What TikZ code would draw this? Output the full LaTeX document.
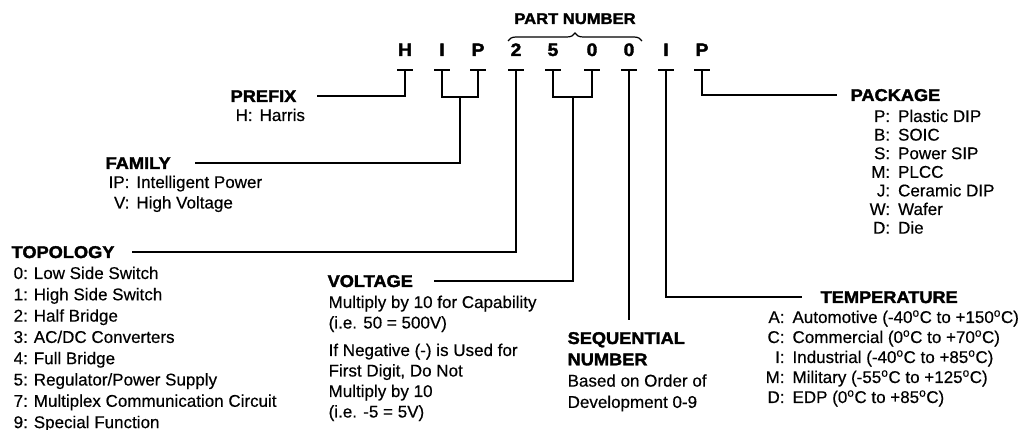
\documentclass[tikz,border=0pt]{standalone}
\usepackage{fontspec}
\setmainfont{Liberation Sans}[FakeBold=0.4]
\newfontfamily\hdfont{Liberation Sans Bold}[FakeBold=2,FakeStretch=1.07]
\usetikzlibrary{decorations.pathreplacing}
\begin{document}
\begin{tikzpicture}[x=1pt,y=-1pt,line width=1.3pt,
  txt/.style={inner sep=0pt,anchor=base west,font=\fontsize{17}{19}\selectfont},
  hd/.style={inner sep=0pt,anchor=base west,font=\hdfont\fontsize{17}{19}\selectfont},
  digit/.style={inner sep=0pt,anchor=base,font=\hdfont\fontsize{18}{19}\selectfont},
  teebar/.style={line width=1.3pt},
  conn/.style={line width=1.3pt}]
\useasboundingbox (0,0) rectangle (1023,430);

% part number heading and brace
\node[digit,font=\hdfont\fontsize{15.5}{18}\selectfont] (pn) at (575,24) {PART NUMBER};
\coordinate (brL) at (508,41);
\coordinate (brR) at (642,41);
\draw[line width=1.2pt,decorate,decoration={brace,amplitude=8pt}] (brL) -- (brR);

% digits
\foreach \n/\x/\c in {dH/405/H,dI/442/I,dP/478/P,dTwo/516/2,dFive/553/5,dZa/592/0,dZb/629/0,dIb/666/I,dPb/702/P}{
  \node[digit] (\n) at (\x,56) {\c};
  \coordinate (t\n) at (\x,70);
  \draw[teebar] ([xshift=-8pt]t\n) -- ([xshift=8pt]t\n);
}

% PREFIX
\node[hd] (prefix) at (230,102) {PREFIX};
\node[txt] (prefixtxt) at (235,121) {H:\hspace{7pt}Harris};
\coordinate (prefixend) at (317,96);
\draw[conn] (tdH) |- (prefixend);

% FAMILY
\node[hd] (family) at (105,169) {FAMILY};
\node[txt,font=\fontsize{17}{20.5}\selectfont] (familytxt) at (108,188)
  {\begin{tabular}[t]{@{}r@{:\hspace{7pt}}l@{}}IP&Intelligent Power\\V&High Voltage\end{tabular}};
\coordinate (jIP) at (460,97);
\coordinate (famend) at (195,163);
\draw[conn] (tdI) |- (jIP) -| (tdP);
\draw[conn] (jIP) |- (famend);

% TOPOLOGY
\node[hd] (topo) at (11,258) {TOPOLOGY};
\node[txt,font=\fontsize{17}{21.3}\selectfont] (topotxt) at (13,279)
  {\begin{tabular}[t]{@{}r@{:\hspace{6pt}}l@{}}
   0&Low Side Switch\\1&High Side Switch\\2&Half Bridge\\3&AC/DC Converters\\
   4&Full Bridge\\5&Regulator/Power Supply\\7&Multiplex Communication Circuit\\9&Special Function
   \end{tabular}};
\coordinate (topoend) at (132,252);
\draw[conn] (tdTwo) |- (topoend);

% VOLTAGE
\node[hd] (volt) at (327,287) {VOLTAGE};
\node[txt,font=\fontsize{17}{20.5}\selectfont] (volttxt) at (328,308)
  {\begin{tabular}[t]{@{}l@{}}
   Multiply by 10 for Capability\\(i.e. 50 = 500V)\\[7pt]
   If Negative (-) is Used for\\First Digit, Do Not\\Multiply by 10\\(i.e. -5 = 5V)
   \end{tabular}};
\coordinate (jFZ) at (573,97);
\coordinate (voltend) at (434,281);
\draw[conn] (tdFive) |- (jFZ) -| (tdZa);
\draw[conn] (jFZ) |- (voltend);

% SEQUENTIAL NUMBER
\coordinate (seqend) at (629,320);
\draw[conn] (tdZb) -- (seqend);
\node[txt,font=\fontsize{17}{21.3}\selectfont] (seq) at (567,344)
  {\begin{tabular}[t]{@{}l@{}}
   {\hdfont SEQUENTIAL}\\{\hdfont NUMBER}\\Based on Order of\\Development 0-9
   \end{tabular}};

% TEMPERATURE
\node[hd] (temp) at (820,303) {TEMPERATURE};
\node[txt,font=\fontsize{17}{20}\selectfont] (temptxt) at (765,323)
  {\begin{tabular}[t]{@{}r@{:\hspace{8pt}}l@{}}
   A&Automotive (-40\textsuperscript{o}C to +150\textsuperscript{o}C)\\
   C&Commercial (0\textsuperscript{o}C to +70\textsuperscript{o}C)\\
   I&Industrial (-40\textsuperscript{o}C to +85\textsuperscript{o}C)\\
   M&Military (-55\textsuperscript{o}C to +125\textsuperscript{o}C)\\
   D&EDP (0\textsuperscript{o}C to +85\textsuperscript{o}C)
   \end{tabular}};
\coordinate (tempend) at (802,297);
\draw[conn] (tdIb) |- (tempend);

% PACKAGE
\node[hd] (pack) at (850,101) {PACKAGE};
\node[txt,font=\fontsize{17}{18.6}\selectfont] (packtxt) at (869,122)
  {\begin{tabular}[t]{@{}r@{:\hspace{8pt}}l@{}}
   P&Plastic DIP\\B&SOIC\\S&Power SIP\\M&PLCC\\J&Ceramic DIP\\W&Wafer\\D&Die
   \end{tabular}};
\coordinate (packend) at (837,95);
\draw[conn] (tdPb) |- (packend);
\end{tikzpicture}
\end{document}
